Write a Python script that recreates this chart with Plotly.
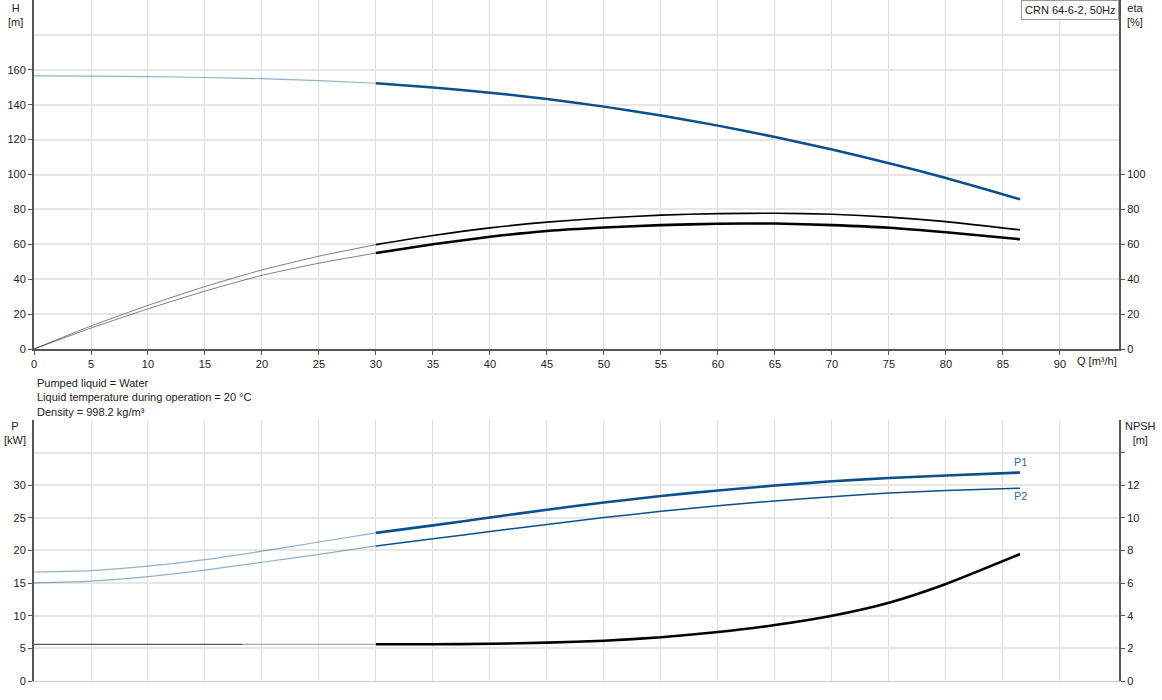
import plotly.graph_objects as go

# flow points: low-flow (faded) part and operating part
q_low = [0, 5, 10, 15, 20, 25, 30]
q_high = [30, 35, 40, 45, 50, 55, 60, 65, 70, 75, 80, 86.5]

# head H [m]
h_low = [156.5, 156.4, 156.1, 155.6, 154.9, 153.8, 152.3]
h_high = [152.3, 149.8, 146.9, 143.3, 138.9, 133.8, 128.0, 121.5, 114.3, 106.5, 98.0, 85.8]

# efficiencies eta [%]
eta1_low = [0, 13.2, 25.0, 35.8, 45.3, 53.2, 59.8]
eta1_high = [59.8, 65.0, 69.4, 72.7, 75.1, 76.7, 77.6, 77.8, 77.2, 75.6, 73.0, 68.3]
eta2_low = [0, 12.0, 23.0, 33.2, 42.2, 49.2, 55.0]
eta2_high = [55.0, 60.0, 64.3, 67.6, 69.6, 71.0, 71.8, 71.9, 71.0, 69.5, 66.9, 62.9]

# power P [kW]
p1_low = [16.7, 16.9, 17.6, 18.6, 19.9, 21.3, 22.7]
p1_high = [22.7, 23.85, 25.05, 26.25, 27.35, 28.35, 29.2, 29.95, 30.6, 31.1, 31.5, 31.95]
p2_low = [15.05, 15.3, 16.0, 17.0, 18.2, 19.4, 20.7]
p2_high = [20.7, 21.8, 22.9, 24.0, 25.05, 26.0, 26.85, 27.6, 28.25, 28.8, 29.2, 29.55]

# NPSH [m]
q_npsh_a = [0, 18.3]
npsh_a = [2.25, 2.25]
q_npsh_b = [18.3, 30]
npsh_b = [2.25, 2.25]
npsh_high = [2.25, 2.25, 2.28, 2.35, 2.47, 2.68, 3.0, 3.43, 4.0, 4.8, 5.95, 7.78]

q_ticks = list(range(0, 95, 5))
h_ticks = list(range(0, 161, 20))
eta_ticks = list(range(0, 101, 20))
p_ticks = list(range(0, 31, 5))
npsh_ticks = list(range(0, 15, 2))

BLUE = "#0b4f8f"
BLUE_FADED = "rgba(11,79,143,0.45)"
GRAY = "rgba(0,0,0,0.5)"
FONT = "Liberation Sans, Arial, sans-serif"


def line(x, y, color, width, xa="x", ya="y"):
    return go.Scatter(x=x, y=y, mode="lines", xaxis=xa, yaxis=ya,
                      line=dict(color=color, width=width, shape="spline", smoothing=0.6),
                      showlegend=False, hoverinfo="skip")


fig = go.Figure()

# top chart: H and eta
fig.add_trace(line(q_low, h_low, BLUE_FADED, 1.2))
fig.add_trace(line(q_high, h_high, BLUE, 2.5))
fig.add_trace(line(q_low, eta1_low, GRAY, 1, ya="y2"))
fig.add_trace(line(q_high, eta1_high, "black", 1.6, ya="y2"))
fig.add_trace(line(q_low, eta2_low, GRAY, 1, ya="y2"))
fig.add_trace(line(q_high, eta2_high, "black", 2.6, ya="y2"))

# bottom chart: P1, P2 and NPSH
fig.add_trace(line(q_low, p1_low, BLUE_FADED, 1.2, "x2", "y3"))
fig.add_trace(line(q_high, p1_high, BLUE, 2.6, "x2", "y3"))
fig.add_trace(line(q_low, p2_low, BLUE_FADED, 1.2, "x2", "y3"))
fig.add_trace(line(q_high, p2_high, BLUE, 1.5, "x2", "y3"))
fig.add_trace(line(q_npsh_a, npsh_a, "#555555", 1.2, "x2", "y4"))
fig.add_trace(line(q_npsh_b, npsh_b, "#aaaaaa", 1.2, "x2", "y4"))
fig.add_trace(line(q_high, npsh_high, "black", 2.6, "x2", "y4"))

x_range = [0, 95.18]
axis_common = dict(showline=True, linecolor="#555555", linewidth=2, ticks="outside",
                   ticklen=4, tickcolor="#555555", tickfont=dict(size=11, color="#222222"),
                   zeroline=False)
xgrid = dict(showgrid=True, gridcolor="#dddddd", gridwidth=1)
ygrid = dict(showgrid=True, gridcolor="#e6e6e6", gridwidth=2)

fig.update_layout(
    width=1162, height=700,
    margin=dict(l=34, r=43, t=0, b=19),
    paper_bgcolor="white", plot_bgcolor="white",
    font=dict(family=FONT, size=11, color="#222222"),
    xaxis=dict(axis_common, **xgrid, range=x_range, tickmode="array", tickvals=q_ticks,
               anchor="y", domain=[0, 1]),
    yaxis=dict(axis_common, **ygrid, range=[0, 200], domain=[0.4875, 1],
               tickmode="array", tickvals=h_ticks, anchor="x",
               minor=dict(tickmode="array", tickvals=[180, 200], showgrid=True,
                          gridcolor="#e6e6e6", gridwidth=2, ticks="")),
    yaxis2=dict(axis_common, range=[0, 200], overlaying="y", side="right", anchor="x",
                showgrid=False, tickmode="array", tickvals=eta_ticks),
    xaxis2=dict(xgrid, range=x_range, tickmode="array", tickvals=q_ticks, anchor="y3",
                showticklabels=False, ticks="", showline=True, linecolor="#cccccc",
                linewidth=1, zeroline=False, domain=[0, 1]),
    yaxis3=dict(axis_common, **ygrid, range=[0, 40], domain=[0, 0.3833],
                tickmode="array", tickvals=p_ticks, anchor="x2",
                minor=dict(tickmode="array", tickvals=[35, 40], showgrid=True,
                           gridcolor="#e6e6e6", gridwidth=2, ticks="")),
    yaxis4=dict(axis_common, range=[0, 16], overlaying="y3", side="right", anchor="x2",
                showgrid=False, tickmode="array", tickvals=npsh_ticks,
                ticktext=[str(v) if v <= 12 else "" for v in npsh_ticks]),
)

annotations = [
    dict(text="H<br>[m]", x=-0.0175, y=1, xanchor="center", yanchor="top"),
    dict(text="eta<br>[%]", x=1.0147, y=1, xanchor="center", yanchor="top"),
    dict(text="Q [m³/h]", x=0.9594, y=0.4699, xanchor="left", yanchor="middle"),
    dict(text="Pumped liquid = Water<br>Liquid temperature during operation = 20 °C<br>"
              "Density = 998.2 kg/m³",
         x=0.001, y=0.4493, xanchor="left", yanchor="top", align="left"),
    dict(text="P<br>[kW]", x=-0.0175, y=0.386, xanchor="center", yanchor="top"),
    dict(text="NPSH<br>[m]", x=1.0194, y=0.386, xanchor="center", yanchor="top"),
    dict(text="CRN 64-6-2, 50Hz", x=1, y=1, xanchor="right", yanchor="top",
         bordercolor="#999999", borderwidth=1, borderpad=3, bgcolor="white"),
]
for a in annotations:
    fig.add_annotation(xref="paper", yref="paper", showarrow=False,
                       font=dict(size=11, color="#222222"), **a)

fig.add_annotation(x=q_high[-1], y=p1_high[-1], xref="x2", yref="y3", text="P1",
                   showarrow=False, yshift=11, font=dict(size=11, color="#2e6db0"))
fig.add_annotation(x=q_high[-1], y=p2_high[-1], xref="x2", yref="y3", text="P2",
                   showarrow=False, yshift=-8, font=dict(size=11, color="#2e6db0"))

# page body margin would shift the chart; remove it
fig.write_html("out.html", config={"displayModeBar": False},
               post_script="document.body.style.margin='0';")
